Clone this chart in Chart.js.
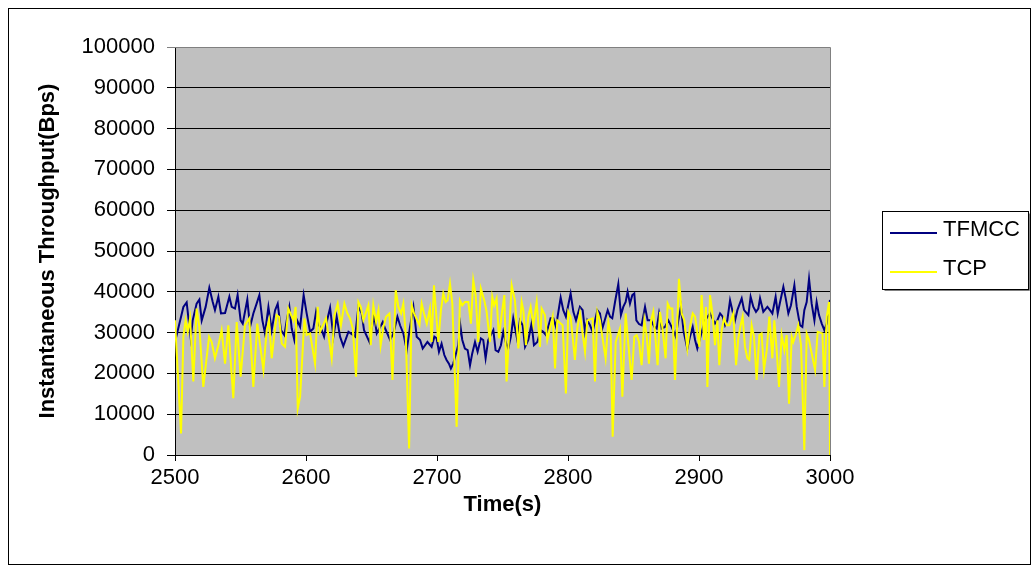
<!DOCTYPE html>
<html>
<head>
<meta charset="utf-8">
<title>Instantaneous Throughput</title>
<script src="https://cdn.jsdelivr.net/npm/chart.js@4/dist/chart.umd.min.js"></script>
<style>
  html, body { margin: 0; padding: 0; background: #fff; }
  canvas { display: block; }
</style>
</head>
<body>
<canvas id="chart" width="1033" height="572"></canvas>
<script>
// sample times (s) and throughput (Bps) per flow
const tfmccTime = [
  2500, 2506.4, 2508.9, 2512, 2513.5, 2516.5, 2518.6, 2520.4, 2523.4, 2526.2,
  2528.8, 2530.5, 2533.1, 2535.1, 2538.2, 2541.5, 2543.3, 2545.8, 2547.8, 2550.1,
  2551.7, 2555.2, 2557.3, 2559.8, 2562.3, 2564.4, 2566.7, 2568.7, 2571.3, 2573.8,
  2576.4, 2578.4, 2580.9, 2583.5, 2585.3, 2587.3, 2589.1, 2591.1, 2593.2, 2595.5,
  2598.2, 2600.5, 2603.1, 2605.6, 2607.7, 2610, 2612, 2613.8, 2615.8, 2618.4,
  2620.9, 2623.4, 2626, 2628.5, 2632.4, 2637.5, 2640, 2642.5, 2644.3, 2648.4,
  2652, 2654, 2658.6, 2660.4, 2664.2, 2666.7, 2669.8, 2671.8, 2674.3, 2676.9,
  2679.4, 2682, 2684.5, 2687.1, 2689.1, 2692.7, 2695.9, 2698, 2699.7, 2701.5,
  2703.5, 2705.6, 2707.3, 2709.1, 2710.6, 2712.4, 2714.2, 2716.2, 2717.8, 2719.3,
  2721.3, 2723.4, 2725.2, 2726.9, 2729, 2731, 2733.5, 2735.3, 2737.1, 2739.1,
  2743, 2744.7, 2746.8, 2748.8, 2750.6, 2752.4, 2754.4, 2756.4, 2758.2, 2761.3,
  2763.3, 2765.4, 2767.2, 2769.7, 2772.2, 2774, 2776.6, 2779.1, 2781.1, 2783.2,
  2786.7, 2788.8, 2790.8, 2794.4, 2796.4, 2798.4, 2802, 2804.1, 2806.1, 2809.1,
  2811.2, 2813, 2814.7, 2816.8, 2818.8, 2822.4, 2824.4, 2826.2, 2830.3, 2832.1,
  2833.8, 2835.9, 2838.4, 2840.4, 2842.2, 2844, 2845.5, 2847.3, 2849.1, 2850.6,
  2852.2, 2854.2, 2856.2, 2858.8, 2860.8, 2863.3, 2865.9, 2867.7, 2869.5, 2871.5,
  2874, 2876.6, 2879.1, 2882.2, 2884.2, 2886.2, 2888.3, 2891.1, 2893.1, 2895.2,
  2897, 2898.7, 2900.8, 2902.8, 2904.6, 2908.4, 2912.2, 2914, 2916.1, 2918.1,
  2919.9, 2921.6, 2923.7, 2925.7, 2927.5, 2929.3, 2932.6, 2934.4, 2937.7, 2939.4,
  2941.5, 2943.5, 2945.3, 2946.6, 2949.1, 2952.2, 2954.2, 2956, 2958.5, 2960.1,
  2961.9, 2964.4, 2966.2, 2968.2, 2970.2, 2972.8, 2974.6, 2977.1, 2978.9, 2980.4,
  2982.2, 2984, 2986, 2988.1, 2989.8, 2991.6, 2993.7, 2995.7, 2997.5, 3000
];
const tfmccBps = [
  27700, 36300, 37400, 28600, 33000, 37100, 38100, 33000, 36300, 41000,
  37500, 35500, 38800, 34700, 34800, 38800, 36300, 35900, 39200, 33000,
  32200, 38100, 31400, 34700, 37100, 39200, 33000, 29800, 36300, 30600,
  35500, 37100, 30600, 29400, 33000, 36300, 31000, 28200, 33000, 31400,
  39200, 34700, 30200, 31000, 35100, 31800, 30600, 29000, 32600, 36100,
  29000, 33900, 29000, 26700, 30200, 29000, 36300, 34700, 30600, 27700,
  34300, 29800, 32600, 31000, 28200, 29800, 33900, 31800, 29800, 25700,
  31400, 36300, 29000, 28200, 26100, 27700, 26500, 29000, 28600, 25300,
  27300, 24500, 23300, 22400, 21200, 22400, 24500, 26900, 31800, 28200,
  26100, 25700, 22000, 24900, 27700, 25300, 28600, 28200, 23700, 28200,
  30600, 25700, 25300, 26900, 30200, 27700, 26100, 29000, 33500, 28200,
  33000, 31800, 26500, 28200, 32200, 26900, 27700, 30600, 30200, 29400,
  33500, 33500, 31400, 38600, 35500, 33900, 39600, 35100, 33000, 36300,
  35500, 30200, 33000, 31800, 30200, 35500, 34700, 31000, 35500, 33900,
  33500, 37500, 41900, 34300, 36300, 37500, 40000, 37100, 39200, 39600,
  33000, 32100, 31800, 36300, 33000, 33000, 31400, 31000, 34700, 31000,
  31400, 33000, 31400, 29000, 33000, 36300, 30200, 26100, 29000, 31400,
  28200, 26100, 28600, 31000, 33000, 34700, 32200, 33000, 34700, 33900,
  31800, 33000, 37900, 35100, 33000, 35500, 38400, 35500, 34300, 38800,
  36300, 35100, 35900, 38400, 35100, 36300, 35500, 34700, 38800, 34700,
  37500, 41200, 38400, 34700, 36700, 41600, 36300, 31800, 31400, 35500,
  37500, 43200, 37100, 33000, 37500, 34300, 32200, 30600, 32200, 38000
];

const tcpTime = [
  2500, 2504.6, 2506.4, 2508.1, 2509.7, 2511.5, 2514, 2516.5, 2518.6, 2521.6,
  2526, 2528, 2530.5, 2533.1, 2535.6, 2538.2, 2540.7, 2544.5, 2547.1, 2550.1,
  2553.4, 2556.7, 2559.8, 2562.8, 2567.5, 2570, 2571.8, 2573.8, 2575.9, 2577.6,
  2579.4, 2581.5, 2584, 2586.5, 2590.4, 2592.1, 2593.7, 2595.5, 2598.8, 2600.5,
  2603.1, 2606.9, 2608.9, 2610.7, 2615.3, 2617.6, 2619.6, 2621.7, 2624.2, 2626.7,
  2629.3, 2631.6, 2633.6, 2635.7, 2638.2, 2640, 2641.8, 2643.8, 2647.6, 2649.4,
  2651.4, 2653.5, 2655.3, 2657, 2659.1, 2661.1, 2663.7, 2666, 2668.5, 2670.5,
  2672.6, 2674.3, 2676.1, 2678.7, 2680.7, 2682.5, 2686.6, 2688.3, 2690.1, 2692.2,
  2694.6, 2695.9, 2697.7, 2701, 2703, 2704.8, 2706.6, 2708.1, 2709.9, 2711.7,
  2715, 2717.5, 2719.3, 2721.3, 2723.9, 2725.9, 2727.7, 2729.5, 2731.5, 2733.5,
  2736.1, 2737.9, 2740.4, 2742.2, 2743.7, 2745.5, 2747.3, 2749.3, 2751.4, 2753.1,
  2757, 2759.5, 2762.1, 2764.6, 2765.9, 2767.9, 2769.7, 2771.5, 2773.5, 2776.1,
  2778.6, 2779.9, 2782.4, 2784.2, 2788.3, 2790.1, 2791.8, 2795.9, 2798.4, 2800.2,
  2802, 2805.3, 2807.1, 2809.1, 2813, 2814.7, 2818.8, 2820.6, 2822.4, 2824.4,
  2826.2, 2828.7, 2830.8, 2832.6, 2834.1, 2836.4, 2839.7, 2841.5, 2844, 2846,
  2848.6, 2850.6, 2852.4, 2854.2, 2856.2, 2858.3, 2860, 2861.8, 2863.4, 2865.1,
  2868.4, 2870.2, 2872, 2874.5, 2876.1, 2877.9, 2879.6, 2881.7, 2884.7, 2886.8,
  2888.8, 2891.1, 2893.1, 2895.2, 2897, 2900.3, 2902, 2903.8, 2905.3, 2906.4,
  2908.4, 2910.4, 2912.2, 2914, 2915.5, 2917.3, 2919.1, 2921.1, 2923.2, 2926.2,
  2928.3, 2930, 2931.8, 2933.3, 2935.1, 2936.9, 2938.4, 2940.2, 2942, 2944,
  2946.1, 2947.8, 2949.6, 2951.7, 2953.7, 2956, 2957.5, 2959.3, 2961.1, 2963.1,
  2965.2, 2966.9, 2968.7, 2970.8, 2972, 2973.8, 2975.8, 2977.9, 2980.4, 2982.2,
  2984, 2986, 2988.6, 2990.6, 2994.2, 2995.7, 2997.5, 2999.3, 3000
];
const tcpBps = [
  33000, 5300, 29000, 33000, 30200, 33500, 18000, 35900, 31400, 16700,
  29000, 27700, 23700, 26900, 30600, 22400, 31800, 13900, 32600, 19200,
  31800, 33500, 16700, 32200, 20800, 30600, 33000, 23700, 29800, 34300,
  33900, 27300, 26500, 35900, 33000, 36300, 11400, 14300, 33500, 29400,
  29800, 22400, 36300, 30200, 33500, 28200, 23700, 34300, 37100, 31800,
  37100, 34700, 33500, 31000, 19200, 37500, 36300, 33000, 36700, 26900,
  36700, 32600, 35500, 26900, 31400, 33900, 34700, 18400, 40400, 36300,
  34700, 37100, 29800, 1600, 36700, 34700, 31800, 37100, 34700, 32200,
  35900, 27700, 41600, 27700, 35500, 39600, 37500, 37900, 42000, 37100,
  6900, 37900, 36700, 37500, 37500, 32200, 42800, 39200, 27700, 40800,
  37900, 35100, 27700, 38800, 36700, 38400, 28600, 34300, 39200, 18000,
  41600, 37900, 26100, 37500, 35500, 26900, 33900, 36300, 31800, 37500,
  26500, 35900, 34300, 28200, 33900, 21200, 33000, 31800, 15100, 35100,
  33900, 23300, 31000, 34700, 25300, 33000, 33500, 18000, 35100, 33000,
  29000, 23700, 32600, 29400, 4500, 27700, 31000, 14300, 34700, 27300,
  18400, 29000, 29400, 27700, 22000, 33000, 29400, 22400, 33000, 35100,
  22000, 35100, 31400, 23700, 37100, 35900, 35900, 18400, 43200, 34700,
  33000, 26100, 31400, 34700, 33900, 26500, 39200, 28200, 36300, 16700,
  39200, 34300, 26900, 33000, 22000, 30600, 33500, 31800, 31800, 34700,
  22000, 28600, 31800, 33900, 26500, 23700, 23300, 31800, 29000, 18400,
  29400, 29800, 20800, 25700, 33900, 23700, 33000, 25700, 16700, 29400,
  25700, 29400, 12600, 29000, 27700, 29400, 31800, 26900, 1200, 29800,
  28200, 24900, 20800, 30200, 29800, 16700, 33900, 37500, 0
];

const FONT = "'Liberation Sans', Arial, sans-serif";

function toPoints(times, values) {
  return times.map((t, i) => ({ x: t, y: values[i] }));
}

// grey plot area, outer frame and the boxed legend on the right
const chartFrame = {
  id: 'chartFrame',
  beforeDraw(chart) {
    const { ctx, chartArea: a } = chart;
    ctx.save();
    ctx.fillStyle = '#ffffff';
    ctx.fillRect(0, 0, chart.width, chart.height);
    ctx.fillStyle = '#c0c0c0';
    ctx.fillRect(a.left, a.top, a.right - a.left, a.bottom - a.top);
    ctx.restore();
  },
  beforeDatasetsDraw(chart) {
    const { ctx, chartArea: a } = chart;
    ctx.save();
    ctx.strokeStyle = '#808080';
    ctx.lineWidth = 1;
    ctx.beginPath();
    ctx.moveTo(a.left, a.top + 0.5);
    ctx.lineTo(a.right + 0.5, a.top + 0.5);
    ctx.lineTo(a.right + 0.5, a.bottom);
    ctx.stroke();
    ctx.restore();
  },
  afterDraw(chart) {
    const ctx = chart.ctx;
    ctx.save();
    ctx.strokeStyle = '#000';
    ctx.lineWidth = 1;
    ctx.strokeRect(8.5, 8.5, 1022, 556);

    // legend box
    const bx = 882.5, by = 211.5, bw = 146, bh = 78;
    ctx.strokeStyle = '#808080';
    ctx.beginPath();
    ctx.moveTo(bx + 2, by + bh + 1);
    ctx.lineTo(bx + bw + 1, by + bh + 1);
    ctx.lineTo(bx + bw + 1, by + 2);
    ctx.stroke();
    ctx.strokeStyle = '#000';
    ctx.strokeRect(bx, by, bw, bh);

    const rows = [233, 272];
    ctx.font = '22px ' + FONT;
    ctx.textBaseline = 'alphabetic';
    ctx.textAlign = 'left';
    chart.data.datasets.forEach((ds, i) => {
      ctx.strokeStyle = ds.borderColor;
      ctx.lineWidth = 2;
      ctx.beginPath();
      ctx.moveTo(890, rows[i]);
      ctx.lineTo(937, rows[i]);
      ctx.stroke();
      ctx.fillStyle = '#000';
      ctx.fillText(ds.label, 943, rows[i] + 3);
    });
    ctx.restore();
  }
};

new Chart(document.getElementById('chart'), {
  type: 'line',
  data: {
    datasets: [
      {
        label: 'TFMCC',
        data: toPoints(tfmccTime, tfmccBps),
        borderColor: '#000080',
        borderWidth: 2,
        pointRadius: 0,
        tension: 0,
        order: 1
      },
      {
        label: 'TCP',
        data: toPoints(tcpTime, tcpBps),
        borderColor: '#ffff00',
        borderWidth: 2,
        pointRadius: 0,
        tension: 0,
        order: 0
      }
    ]
  },
  plugins: [chartFrame],
  options: {
    responsive: false,
    animation: false,
    devicePixelRatio: 1,
    layout: { padding: { left: 0, top: 47, right: 203, bottom: 0 } },
    plugins: {
      legend: { display: false },
      tooltip: { enabled: false }
    },
    scales: {
      x: {
        type: 'linear',
        min: 2500,
        max: 3000,
        afterFit: (scale) => { scale.height = 117; },
        ticks: {
          stepSize: 100,
          autoSkip: false,
          maxRotation: 0,
          padding: 4,
          color: '#000',
          font: { family: FONT, size: 22 },
          callback: (v) => String(v)
        },
        grid: { drawOnChartArea: false, tickLength: 6, color: '#000' },
        border: { color: '#000', width: 1 },
        title: {
          display: true,
          text: 'Time(s)',
          color: '#000',
          font: { family: FONT, size: 22, weight: 'bold' },
          padding: { top: 0, bottom: 54 }
        }
      },
      y: {
        min: 0,
        max: 100000,
        afterFit: (scale) => { scale.width = 175; },
        ticks: {
          stepSize: 10000,
          padding: 12,
          color: '#000',
          font: { family: FONT, size: 22 },
          callback: (v) => String(v)
        },
        grid: {
          tickLength: 8,
          color: (c) => (c.tick && c.tick.value === 100000 ? '#808080' : '#000')
        },
        border: { color: '#000', width: 1 },
        title: {
          display: true,
          text: 'Instantaneous Throughput(Bps)',
          color: '#000',
          font: { family: FONT, size: 22, weight: 'bold' },
          padding: { top: 35, bottom: 0 }
        }
      }
    }
  }
});
</script>
</body>
</html>
